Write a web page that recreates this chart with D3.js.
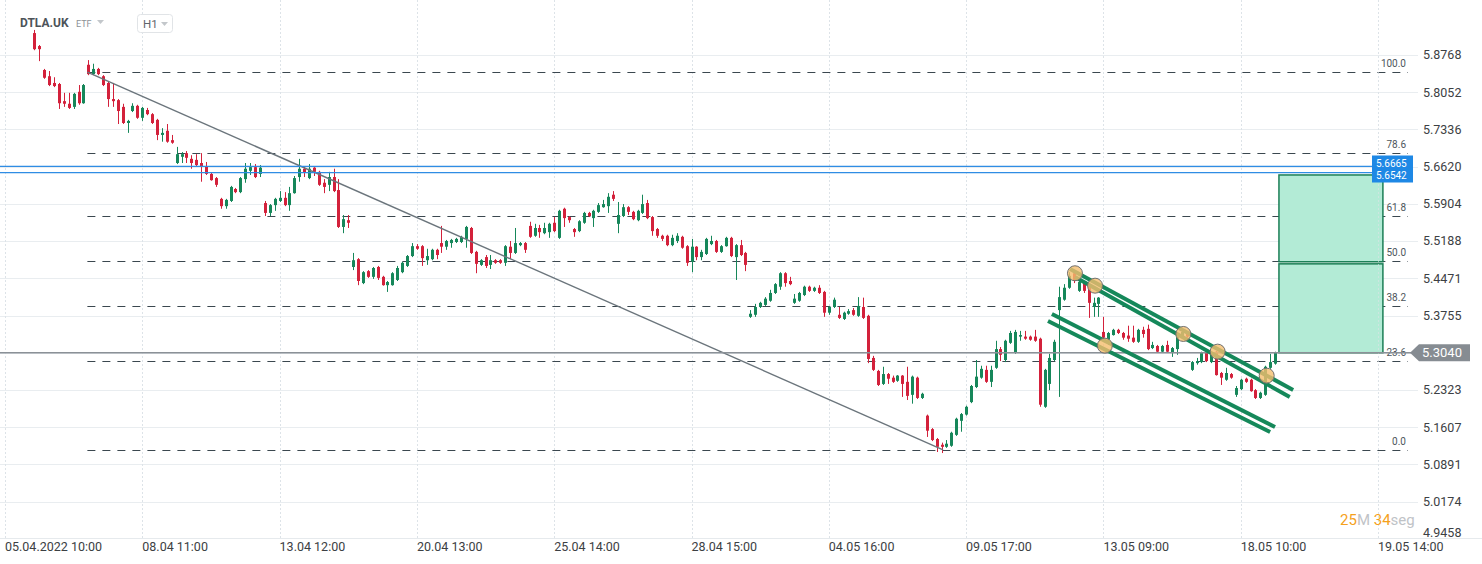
<!DOCTYPE html>
<html><head><meta charset="utf-8">
<script src="https://cdn.jsdelivr.net/npm/d3@7"></script>
<style>body{margin:0;background:#fff;overflow:hidden}svg{display:block;font-family:Roboto,"Noto Sans",sans-serif}</style>
</head><body><svg id="c" width="1482" height="564"></svg>
<script>
// ---------- DATA ----------
const firstIndex = 6; // candle index of first bar (H1 bars, 05.04.2022 10:00 = index 0)
const opens = [
5.919,5.894,5.848,5.836,5.823,5.821,5.788,5.783,5.777,5.806,
5.784,5.858,5.840,5.850,5.836,5.823,5.792,5.790,5.777,5.746,
5.769,5.779,5.756,5.771,5.763,5.752,5.723,5.731,5.713,5.669,
5.681,5.688,5.677,5.675,5.669,5.663,5.648,5.640,5.600,5.586,
5.596,5.619,5.613,5.638,5.654,5.661,5.648,5.592,5.573,5.588,
5.596,5.602,5.588,5.611,5.642,5.658,5.640,5.660,5.652,5.631,
5.627,5.642,5.617,5.546,5.559,5.469,5.484,5.438,5.461,5.450,
5.469,5.450,5.434,5.434,5.444,5.459,5.471,5.490,5.509,5.509,
5.482,5.484,5.502,5.515,5.508,5.515,5.517,5.517,5.523,5.544,
5.498,5.473,5.488,5.473,5.482,5.482,5.477,5.508,5.496,5.511,
5.515,5.548,5.529,5.544,5.534,5.536,5.554,5.525,5.581,5.565,
5.542,5.538,5.554,5.573,5.563,5.575,5.584,5.586,5.608,5.552,
5.567,5.584,5.575,5.559,5.573,5.592,5.565,5.542,5.529,5.529,
5.511,5.519,5.527,5.509,5.479,5.508,5.488,5.494,5.513,5.519,
5.498,5.509,5.525,5.488,5.511,5.496,5.373,5.377,5.392,5.396,
5.404,5.419,5.431,5.457,5.442,5.400,5.404,5.415,5.431,5.423,
5.429,5.421,5.381,5.392,5.377,5.369,5.379,5.386,5.375,5.392,
5.375,5.294,5.269,5.244,5.263,5.256,5.250,5.260,5.248,5.223,
5.256,5.217,5.183,5.157,5.138,5.127,5.123,5.125,5.146,5.173,
5.185,5.209,5.238,5.256,5.271,5.248,5.275,5.311,5.290,5.323,
5.304,5.335,5.335,5.335,5.335,5.331,5.200,5.244,5.290,5.386,
5.406,5.429,5.457,5.423,5.438,5.431,5.392,5.398,5.344,5.329,
5.338,5.348,5.342,5.337,5.333,5.325,5.348,5.350,5.313,5.317,
5.306,5.319,5.304,5.311,5.335,5.342,5.271,5.284,5.286,5.304,
5.286,5.306,5.265,5.252,5.263,5.223,5.234,5.254,5.252,5.232,
5.217,5.223,5.275,5.283];
const highs = [
5.925,5.896,5.850,5.846,5.834,5.823,5.804,5.804,5.804,5.819,
5.821,5.867,5.860,5.852,5.838,5.825,5.823,5.792,5.783,5.752,
5.784,5.781,5.777,5.775,5.765,5.754,5.736,5.744,5.723,5.700,
5.690,5.692,5.684,5.686,5.688,5.671,5.650,5.642,5.602,5.600,
5.625,5.621,5.642,5.669,5.669,5.667,5.665,5.596,5.590,5.602,
5.615,5.613,5.623,5.644,5.677,5.663,5.667,5.661,5.654,5.638,
5.652,5.658,5.638,5.569,5.569,5.496,5.486,5.461,5.463,5.469,
5.471,5.452,5.442,5.459,5.471,5.479,5.492,5.515,5.513,5.511,
5.504,5.504,5.504,5.548,5.521,5.523,5.525,5.529,5.548,5.546,
5.500,5.484,5.492,5.492,5.484,5.484,5.511,5.519,5.544,5.517,
5.517,5.556,5.552,5.550,5.554,5.554,5.565,5.579,5.583,5.567,
5.544,5.559,5.575,5.575,5.579,5.592,5.598,5.611,5.615,5.594,
5.590,5.586,5.577,5.579,5.608,5.598,5.567,5.544,5.531,5.531,
5.531,5.534,5.529,5.511,5.523,5.509,5.502,5.525,5.529,5.521,
5.511,5.527,5.527,5.513,5.521,5.498,5.386,5.398,5.402,5.411,
5.425,5.438,5.459,5.459,5.450,5.417,5.421,5.433,5.433,5.431,
5.434,5.423,5.394,5.410,5.392,5.383,5.388,5.390,5.411,5.410,
5.377,5.298,5.271,5.277,5.265,5.260,5.261,5.261,5.277,5.260,
5.258,5.227,5.185,5.159,5.140,5.131,5.136,5.152,5.179,5.188,
5.202,5.242,5.290,5.279,5.279,5.279,5.327,5.315,5.329,5.346,
5.348,5.346,5.346,5.337,5.348,5.333,5.273,5.302,5.329,5.431,
5.436,5.459,5.461,5.446,5.440,5.433,5.410,5.411,5.373,5.344,
5.350,5.350,5.344,5.356,5.356,5.350,5.354,5.358,5.325,5.319,
5.319,5.327,5.315,5.344,5.346,5.344,5.288,5.294,5.306,5.306,
5.304,5.307,5.267,5.275,5.265,5.240,5.254,5.256,5.254,5.234,
5.229,5.279,5.302,5.306];
const lows = [
5.886,5.865,5.831,5.817,5.815,5.773,5.777,5.773,5.773,5.781,
5.783,5.838,5.838,5.838,5.817,5.777,5.777,5.744,5.744,5.727,
5.767,5.754,5.750,5.761,5.744,5.713,5.710,5.708,5.706,5.667,
5.669,5.669,5.658,5.663,5.633,5.646,5.635,5.623,5.581,5.581,
5.594,5.611,5.611,5.631,5.646,5.640,5.642,5.567,5.567,5.577,
5.594,5.586,5.577,5.610,5.633,5.642,5.638,5.644,5.625,5.611,
5.615,5.613,5.544,5.534,5.544,5.463,5.434,5.436,5.448,5.446,
5.444,5.433,5.421,5.433,5.442,5.457,5.469,5.488,5.502,5.471,
5.473,5.482,5.484,5.496,5.502,5.506,5.515,5.515,5.506,5.494,
5.457,5.471,5.467,5.465,5.475,5.475,5.471,5.484,5.494,5.509,
5.496,5.525,5.527,5.525,5.532,5.525,5.536,5.523,5.546,5.554,
5.527,5.536,5.552,5.565,5.546,5.573,5.583,5.573,5.596,5.534,
5.565,5.569,5.559,5.557,5.571,5.561,5.529,5.525,5.519,5.509,
5.509,5.515,5.504,5.471,5.459,5.482,5.482,5.492,5.511,5.496,
5.496,5.508,5.488,5.444,5.490,5.461,5.371,5.373,5.390,5.394,
5.402,5.417,5.425,5.431,5.434,5.398,5.402,5.413,5.421,5.421,
5.417,5.373,5.377,5.390,5.369,5.367,5.377,5.375,5.373,5.369,
5.284,5.269,5.240,5.242,5.244,5.246,5.248,5.219,5.213,5.206,
5.215,5.215,5.142,5.134,5.113,5.111,5.121,5.123,5.144,5.152,
5.183,5.207,5.236,5.254,5.246,5.238,5.273,5.288,5.286,5.321,
5.302,5.327,5.329,5.327,5.325,5.200,5.198,5.232,5.288,5.219,
5.404,5.427,5.438,5.421,5.419,5.371,5.373,5.373,5.331,5.319,
5.337,5.340,5.329,5.325,5.323,5.323,5.333,5.309,5.311,5.304,
5.304,5.304,5.296,5.300,5.333,5.333,5.269,5.281,5.284,5.286,
5.284,5.260,5.242,5.250,5.254,5.219,5.232,5.246,5.229,5.215,
5.215,5.221,5.273,5.281];
const closes = [
5.888,5.888,5.833,5.819,5.817,5.784,5.783,5.775,5.802,5.784,
5.819,5.840,5.850,5.840,5.819,5.792,5.788,5.769,5.746,5.750,
5.779,5.756,5.775,5.763,5.746,5.723,5.727,5.710,5.708,5.686,
5.686,5.679,5.669,5.665,5.663,5.648,5.636,5.627,5.586,5.598,
5.623,5.613,5.640,5.658,5.661,5.642,5.660,5.573,5.588,5.600,
5.602,5.588,5.611,5.640,5.658,5.650,5.658,5.652,5.627,5.623,
5.642,5.615,5.546,5.561,5.554,5.482,5.442,5.459,5.450,5.467,
5.448,5.434,5.440,5.457,5.467,5.477,5.490,5.509,5.504,5.486,
5.490,5.502,5.492,5.508,5.519,5.521,5.523,5.527,5.546,5.496,
5.475,5.482,5.471,5.482,5.477,5.477,5.509,5.496,5.515,5.515,
5.502,5.527,5.544,5.536,5.544,5.552,5.538,5.577,5.563,5.559,
5.536,5.557,5.573,5.567,5.577,5.588,5.590,5.604,5.600,5.569,
5.584,5.575,5.561,5.577,5.590,5.563,5.538,5.529,5.523,5.511,
5.525,5.529,5.506,5.477,5.508,5.488,5.498,5.523,5.519,5.498,
5.509,5.525,5.490,5.511,5.492,5.473,5.379,5.392,5.400,5.408,
5.419,5.436,5.457,5.438,5.436,5.408,5.419,5.431,5.423,5.429,
5.419,5.381,5.392,5.406,5.371,5.381,5.384,5.377,5.394,5.371,
5.292,5.271,5.242,5.263,5.254,5.248,5.260,5.244,5.221,5.258,
5.217,5.225,5.154,5.136,5.123,5.123,5.129,5.150,5.177,5.186,
5.200,5.240,5.258,5.273,5.248,5.271,5.311,5.300,5.327,5.342,
5.344,5.338,5.331,5.329,5.327,5.204,5.271,5.294,5.325,5.411,
5.429,5.452,5.442,5.440,5.423,5.400,5.400,5.410,5.333,5.342,
5.348,5.342,5.333,5.331,5.325,5.348,5.340,5.311,5.319,5.306,
5.317,5.306,5.313,5.335,5.344,5.335,5.286,5.288,5.304,5.288,
5.302,5.261,5.256,5.265,5.256,5.236,5.252,5.248,5.230,5.217,
5.227,5.277,5.286,5.304];

const xTickIndex = [0,28,56,84,112,140,168,196,224,252,280];
const xTickLabels = ["05.04.2022 10:00","08.04 11:00","13.04 12:00","20.04 13:00","25.04 14:00","28.04 15:00","04.05 16:00","09.05 17:00","13.05 09:00","18.05 10:00","19.05 14:00"];
const yTicks = [5.8768,5.8052,5.7336,5.6620,5.5904,5.5188,5.4471,5.3755,5.3040,5.2323,5.1607,5.0891,5.0174,4.9458];

const fibLevels = [0.0,23.6,38.2,50.0,61.8,78.6,100.0];
const fibLow = 5.117, fibHigh = 5.844;
const fibStartIndex = 16.8, fibEndIndex = 191.3, fibRightIndex = 286.1;

const lastPrice = 5.3040;
const alertLevels = [5.6665, 5.6542];
const zones = [[5.479, 5.646], [5.304, 5.475]];
const zoneIndexRange = [259.8, 281.0];

const channelLines = [
  [[217.2,5.4652],[262.7,5.2324]],
  [[218.2,5.4498],[262.0,5.2189]],
  [[213.5,5.3786],[259.0,5.1612]],
  [[212.7,5.3651],[258.0,5.1516]]
];
const touchPoints = [[218.2,5.4569],[222.3,5.4330],[240.3,5.3401],[247.3,5.3061],[257.3,5.2599],[224.3,5.3176]];

// ---------- SCALES ----------
const svg = d3.select("#c");
const x = d3.scaleLinear().domain([0, 280]).range([5, 1378]);
const y = d3.scaleLinear().domain([5.0174, 5.8768]).range([501.7, 55]);
const RED = "#d3213b", GREEN = "#16875a";

// ---------- GRID ----------
const grid = svg.append("g");
grid.selectAll("line.h").data(yTicks.filter(v => y(v) < 536)).join("line")
  .attr("x1", 0).attr("x2", 1418)
  .attr("y1", d => Math.round(y(d)) + 0.5).attr("y2", d => Math.round(y(d)) + 0.5)
  .attr("stroke", "#e9edf0").attr("stroke-width", 1);
grid.selectAll("line.v").data(xTickIndex).join("line")
  .attr("x1", d => Math.round(x(d)) + 0.5).attr("x2", d => Math.round(x(d)) + 0.5)
  .attr("y1", 0).attr("y2", 538)
  .attr("stroke", "#dde3e8").attr("stroke-dasharray", "2,2");
grid.append("line").attr("x1", 0).attr("x2", 1482).attr("y1", 538.5).attr("y2", 538.5)
  .attr("stroke", "#e6eaed");

// ---------- FIB ----------
const fib = svg.append("g");
const fibPrice = lv => fibLow + (fibHigh - fibLow) * lv / 100;
fib.selectAll("line").data(fibLevels).join("line")
  .attr("x1", x(fibStartIndex)).attr("x2", x(fibRightIndex))
  .attr("y1", d => Math.round(y(fibPrice(d))) + 0.5).attr("y2", d => Math.round(y(fibPrice(d))) + 0.5)
  .attr("stroke", "#3b474f").attr("stroke-width", 1.2).attr("stroke-dasharray", "8,7");
fib.selectAll("text").data(fibLevels).join("text")
  .attr("x", 1406).attr("y", d => y(fibPrice(d)) - 5)
  .attr("text-anchor", "end").attr("font-size", 10).attr("fill", "#4d565c")
  .text(d => d.toFixed(1));

// ---------- ZONES ----------
svg.append("g").selectAll("rect").data(zones).join("rect")
  .attr("x", x(zoneIndexRange[0])).attr("width", x(zoneIndexRange[1]) - x(zoneIndexRange[0]))
  .attr("y", d => y(d[1])).attr("height", d => y(d[0]) - y(d[1]))
  .attr("fill", "#b3ebd6").attr("stroke", "#1b7f56").attr("stroke-width", 1.5);
svg.append("line").attr("x1", Math.round(x(280)) + 0.5).attr("x2", Math.round(x(280)) + 0.5)
  .attr("y1", 0).attr("y2", 538).attr("stroke", "#dde3e8").attr("stroke-dasharray", "2,2").attr("opacity", 0.6);

// ---------- CANDLES ----------
const candles = opens.map((o, k) => ({ i: firstIndex + k, o, h: highs[k], l: lows[k], c: closes[k] }));
const cg = svg.append("g");
cg.selectAll("line").data(candles).join("line")
  .attr("x1", d => Math.round(x(d.i)) + 0.5).attr("x2", d => Math.round(x(d.i)) + 0.5)
  .attr("y1", d => y(d.h)).attr("y2", d => y(d.l))
  .attr("stroke", d => d.c >= d.o ? GREEN : RED).attr("stroke-width", 1);
cg.selectAll("rect").data(candles).join("rect")
  .attr("x", d => Math.round(x(d.i)) - 1).attr("width", 3)
  .attr("y", d => y(Math.max(d.o, d.c)))
  .attr("height", d => Math.max(1.5, Math.abs(y(d.o) - y(d.c))))
  .attr("fill", d => d.c >= d.o ? GREEN : RED);

// ---------- TREND LINE (fib diagonal) ----------
svg.append("line")
  .attr("x1", x(fibStartIndex)).attr("y1", y(fibHigh))
  .attr("x2", x(fibEndIndex)).attr("y2", y(fibLow))
  .attr("stroke", "#6b757c").attr("stroke-width", 1.4);

// ---------- LAST PRICE LINE ----------
svg.append("line").attr("x1", 0).attr("x2", 1411)
  .attr("y1", y(lastPrice)).attr("y2", y(lastPrice))
  .attr("stroke", "#8b9197").attr("stroke-width", 1.4);

// ---------- ALERT LINES ----------
svg.append("g").selectAll("line").data(alertLevels).join("line")
  .attr("x1", 0).attr("x2", 1372).attr("y1", d => y(d) + 2).attr("y2", d => y(d) + 2)
  .attr("stroke", "#2f8de4").attr("stroke-width", 1.2);

// ---------- CHANNEL LINES ----------
svg.append("g").selectAll("line").data(channelLines).join("line")
  .attr("x1", d => x(d[0][0])).attr("y1", d => y(d[0][1]))
  .attr("x2", d => x(d[1][0])).attr("y2", d => y(d[1][1]))
  .attr("stroke", "#15885a").attr("stroke-width", 4);
svg.append("g").selectAll("circle").data(touchPoints).join("circle")
  .attr("cx", d => x(d[0])).attr("cy", d => y(d[1])).attr("r", 7.5)
  .attr("fill", "rgba(245,190,110,0.8)").attr("stroke", "#707070").attr("stroke-width", 1);

// ---------- Y AXIS LABELS ----------
svg.append("g").selectAll("text").data(yTicks.filter(v => v !== lastPrice)).join("text")
  .attr("x", 1423).attr("y", d => Math.min(y(d), 533)).attr("dy", "0.35em")
  .attr("font-size", 12.5).attr("fill", "#3c4043").text(d => d.toFixed(4));

// ---------- X AXIS LABELS ----------
svg.append("g").selectAll("text").data(xTickIndex).join("text")
  .attr("x", d => x(d)).attr("y", 551)
  .attr("font-size", 12.5).attr("fill", "#3c4043")
  .text((d, k) => xTickLabels[k]);

// ---------- ALERT LABELS (stacked box) ----------
const al = svg.append("g");
const aTop = 155.5, aBot = 182.5;
al.append("rect").attr("x", 1372).attr("y", aTop).attr("width", 41).attr("height", aBot - aTop).attr("fill", "#1e88e5");
al.selectAll("text").data(alertLevels).join("text")
  .attr("x", 1376).attr("y", (d, k) => k === 0 ? aTop + 11 : aBot - 3.5)
  .attr("font-size", 10).attr("fill", "#fff").text(d => d.toFixed(4));

// ---------- LAST PRICE LABEL ----------
const ly = y(lastPrice);
svg.append("polygon")
  .attr("points", [[1410, ly], [1419, ly - 8.5], [1470, ly - 8.5], [1470, ly + 8.5], [1419, ly + 8.5]].map(p => p.join(",")).join(" "))
  .attr("fill", "#868c92");
svg.append("text").attr("x", 1422).attr("y", ly).attr("dy", "0.36em")
  .attr("font-size", 13).attr("fill", "#fff").text(lastPrice.toFixed(4));

// ---------- COUNTDOWN ----------
const cd = svg.append("text").attr("x", 1340).attr("y", 525).attr("font-size", 15);
cd.append("tspan").attr("fill", "#f5a11c").text("25");
cd.append("tspan").attr("fill", "#bfc3c7").text("M ");
cd.append("tspan").attr("fill", "#f5a11c").text("34");
cd.append("tspan").attr("fill", "#bfc3c7").text("seg");

// ---------- TITLE ----------
const t = svg.append("g");
t.append("text").attr("x", 20).attr("y", 27).attr("font-size", 12).attr("font-weight", "bold")
  .attr("fill", "#4d5359").text("DTLA.UK");
t.append("text").attr("x", 76).attr("y", 27).attr("font-size", 9).attr("fill", "#8c9196").text("ETF");
t.append("polygon").attr("points", "97,20 104,20 100.5,24").attr("fill", "#c3c7cb");
t.append("rect").attr("x", 137.5).attr("y", 14.5).attr("width", 35).attr("height", 18).attr("rx", 3)
  .attr("fill", "#fff").attr("stroke", "#e1e4e7");
t.append("text").attr("x", 143).attr("y", 27.5).attr("font-size", 11.5).attr("fill", "#5f656b").text("H1");
t.append("polygon").attr("points", "161,22 168,22 164.5,26").attr("fill", "#c3c7cb");
</script></body></html>
